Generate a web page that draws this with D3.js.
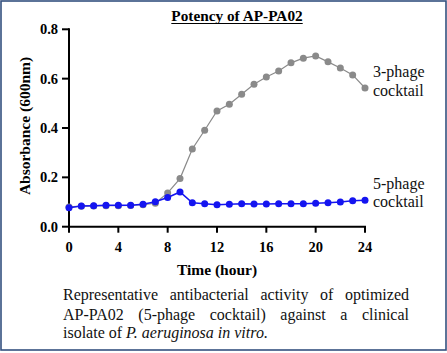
<!DOCTYPE html>
<html><head><meta charset="utf-8">
<script src="https://cdn.jsdelivr.net/npm/d3@7"></script>
</head>
<body style="margin:0;padding:0;background:#fff">
<svg id="c" width="447" height="353" style="display:block" font-family="Liberation Serif, Times New Roman, serif"></svg>
<script>
const hours = d3.range(0, 25);
const threePhage = [0.080,0.083,0.084,0.085,0.085,0.086,0.089,0.095,0.137,0.195,0.315,0.391,0.469,0.496,0.537,0.577,0.607,0.631,0.664,0.683,0.692,0.668,0.643,0.615,0.562];
const fivePhage = [0.077,0.084,0.085,0.087,0.087,0.087,0.091,0.101,0.118,0.141,0.097,0.093,0.089,0.091,0.093,0.092,0.092,0.093,0.093,0.093,0.095,0.097,0.100,0.105,0.107];
const xTicks = [0,4,8,12,16,20,24];
const yTicks = [0.0,0.2,0.4,0.6,0.8];
const title = "Potency of AP-PA02";
const yTitle = "Absorbance (600nm)";
const xTitle = "Time (hour)";
const captionLines = [
  [{t:"Representative"},{t:"antibacterial"},{t:"activity"},{t:"of"},{t:"optimized"}],
  [{t:"AP-PA02"},{t:"(5-phage"},{t:"cocktail)"},{t:"against"},{t:"a"},{t:"clinical"}],
  [{t:"isolate"},{t:"of"},{t:"P.",i:true},{t:"aeruginosa",i:true},{t:"in",i:true},{t:"vitro.",i:true}]
];
const FONT = "Liberation Serif";

const svg = d3.select("#c");
svg.append("rect").attr("x",1).attr("y",1).attr("width",445).attr("height",349)
  .attr("fill","#fff").attr("stroke","#34507f").attr("stroke-width",1.6);

const x = d3.scaleLinear().domain([0,24]).range([69,365]);
const y = d3.scaleLinear().domain([0,0.8]).range([226.7,29.3]);

function txt(){ return svg.append("text").style("font-family",FONT).attr("fill","#000"); }

// title
const tt = txt().attr("x",237).attr("y",20.5).attr("text-anchor","middle")
  .attr("font-size",15.3).attr("font-weight","bold").text(title);
const tb = tt.node().getBBox();
svg.append("line").attr("x1",tb.x).attr("x2",tb.x+tb.width).attr("y1",23.5).attr("y2",23.5)
  .attr("stroke","#000").attr("stroke-width",1);

// axes drawn from the scales
svg.append("line").attr("x1",x(0)).attr("x2",x(0)).attr("y1",y(0.8)-1).attr("y2",y(0)+1)
  .attr("stroke","#000").attr("stroke-width",2);
svg.append("line").attr("x1",x(0)-1).attr("x2",x(24)+1).attr("y1",y(0)).attr("y2",y(0))
  .attr("stroke","#000").attr("stroke-width",2);
yTicks.forEach(v=>{
  svg.append("line").attr("x1",x(0)-7).attr("x2",x(0)).attr("y1",y(v)).attr("y2",y(v))
    .attr("stroke","#000").attr("stroke-width",2);
  txt().attr("x",x(0)-11).attr("y",y(v)).attr("dy","0.34em").attr("text-anchor","end")
    .attr("font-size",14.5).attr("font-weight","bold").text(d3.format(".1f")(v));
});
xTicks.forEach(v=>{
  svg.append("line").attr("x1",x(v)).attr("x2",x(v)).attr("y1",y(0)).attr("y2",y(0)+6)
    .attr("stroke","#000").attr("stroke-width",2);
  txt().attr("x",x(v)).attr("y",252).attr("text-anchor","middle")
    .attr("font-size",14.5).attr("font-weight","bold").text(v);
});

// axis titles
txt().attr("transform","translate(30,126) rotate(-90)").attr("text-anchor","middle")
  .attr("font-size",15.5).attr("font-weight","bold").text(yTitle);
txt().attr("x",217).attr("y",275).attr("text-anchor","middle")
  .attr("font-size",15.5).attr("font-weight","bold").text(xTitle);

// series
const line = d3.line().x((d,i)=>x(hours[i])).y(d=>y(d));
function series(vals,color,lw){
  svg.append("path").datum(vals).attr("d",line).attr("fill","none").attr("stroke",color).attr("stroke-width",lw);
  svg.append("g").selectAll("circle").data(vals).join("circle")
    .attr("cx",(d,i)=>x(hours[i])).attr("cy",d=>y(d)).attr("r",3.5).attr("fill",color);
}
series(threePhage,"#8a8a8a",1.2);
series(fivePhage,"#1414f0",1.6);

// series labels
const labels = [["3-phage",77],["cocktail",96],["5-phage",189],["cocktail",207]];
labels.forEach(([t,yy])=>txt().attr("x",373).attr("y",yy).attr("font-size",16).attr("fill","#111").text(t));

// caption (justified)
const capX0 = 63, capX1 = 409, capY = [300,320,338];
captionLines.forEach((words,li)=>{
  const nodes = words.map(w=>txt().attr("font-size",16).attr("y",capY[li])
    .attr("font-style",w.i?"italic":"normal").attr("fill","#111").text(w.t));
  const widths = nodes.map(n=>n.node().getComputedTextLength());
  const total = d3.sum(widths);
  const last = li===captionLines.length-1;
  const gap = last ? 4 : (capX1-capX0-total)/(words.length-1);
  let cx = capX0;
  nodes.forEach((n,i)=>{ n.attr("x",cx); cx += widths[i] + gap; });
});
</script>
</body></html>
